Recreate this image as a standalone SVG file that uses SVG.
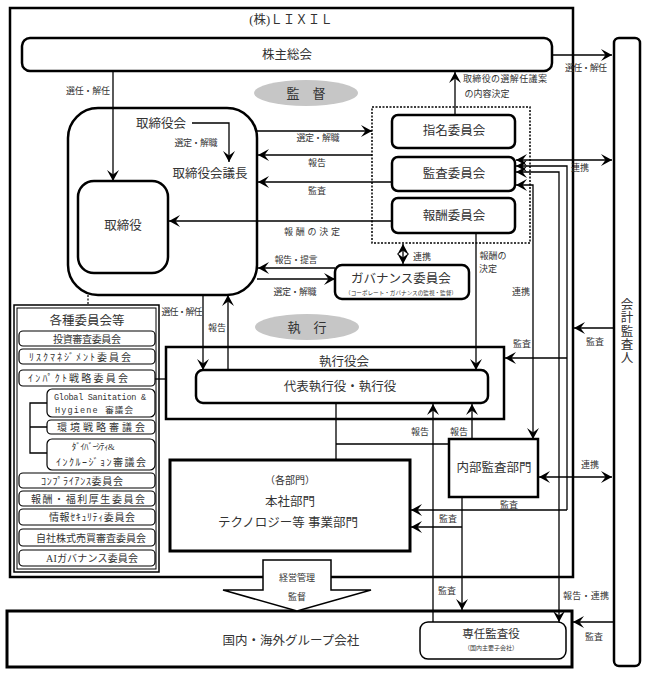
<svg xmlns="http://www.w3.org/2000/svg" width="648" height="677" viewBox="0 0 648 677">
<defs>
<marker id="ah" viewBox="-12 -7 13 14" refX="0" refY="0" markerWidth="13" markerHeight="14" markerUnits="userSpaceOnUse" orient="auto-start-reverse">
<path d="M0,0 L-11,-6 L-6.5,0 L-11,6 Z" fill="#000"/>
</marker>
<style>
.b{fill:#fff;stroke:#000;stroke-width:2.5}
.n{fill:#fff;stroke:#000;stroke-width:1.2}
.t{font-family:"Liberation Serif","Noto Sans CJK JP",serif;fill:#333;text-anchor:middle;dominant-baseline:central}
.s{font-size:9px}
.m{font-size:12.5px}
.i{font-size:10px}
.c{fill:none;stroke:#000;stroke-width:1.3}
.e{marker-end:url(#ah)}
.d{marker-start:url(#ah);marker-end:url(#ah)}
.el{fill:#c6c6c6}
.et{font-size:13px;fill:#333}
</style>
</defs>
<rect width="648" height="677" fill="#fff"/>

<g id="lixil">
<rect x="10" y="8" width="563" height="569" fill="none" stroke="#000" stroke-width="2.5"/>
<text class="t m" x="291" y="20">(株)ＬＩＸＩＬ</text>
</g>

<g id="auditor">
<rect x="614" y="38" width="26" height="628" rx="5" class="b" stroke-width="2"/>
<text class="t m" x="627" y="305">会</text>
<text class="t m" x="627" y="318">計</text>
<text class="t m" x="627" y="332">監</text>
<text class="t m" x="627" y="345">査</text>
<text class="t m" x="627" y="358">人</text>
</g>

<g id="shareholders">
<rect x="22" y="38" width="530" height="33" rx="8" class="b"/>
<text class="t m" x="287" y="55">株主総会</text>
</g>

<g id="supervision">
<ellipse cx="306" cy="93" rx="52" ry="13" class="el"/>
<text class="t et" x="306" y="93">監　督</text>
</g>

<g id="board">
<rect x="68" y="108" width="189" height="187" rx="30" class="b"/>
<text class="t m" x="161" y="124">取締役会</text>
<text class="t m" x="210" y="174">取締役会議長</text>
</g>

<g id="directors">
<rect x="78" y="181" width="90" height="92" rx="16" class="b"/>
<text class="t m" x="123" y="226">取締役</text>
</g>

<g id="committees-frame">
<rect x="372" y="107" width="158" height="136" fill="none" stroke="#000" stroke-width="1.5" stroke-dasharray="2,1.5"/>
</g>
<g id="nomination">
<rect x="392" y="115" width="123" height="33" rx="6" class="b"/>
<text class="t m" x="454" y="131">指名委員会</text>
</g>
<g id="audit-committee">
<rect x="392" y="157" width="123" height="34" rx="6" class="b"/>
<text class="t m" x="454" y="174">監査委員会</text>
</g>
<g id="compensation">
<rect x="392" y="198" width="123" height="35" rx="6" class="b"/>
<text class="t m" x="454" y="216">報酬委員会</text>
</g>

<g id="governance">
<rect x="335" y="265" width="134" height="34" rx="7" class="b"/>
<text class="t" style="font-size:12.5px" x="401" y="279">ガバナンス委員会</text>
<text class="t" style="font-size:5.6px" x="401" y="293">（コーポレート・ガバナンスの監視・監督）</text>
</g>

<g id="execution">
<ellipse cx="307" cy="327" rx="52" ry="13" class="el"/>
<text class="t et" x="307" y="327">執　行</text>
</g>

<g id="exec-board">
<rect x="166" y="347" width="338" height="72" class="b"/>
<text class="t m" x="344" y="362">執行役会</text>
</g>
<g id="officers">
<rect x="196" y="370" width="292" height="33" rx="7" class="b"/>
<text class="t m" x="340" y="387">代表執行役・執行役</text>
</g>

<g id="various-committees">
<rect x="14" y="305" width="145" height="267" fill="#fff" stroke="#000" stroke-width="1.5"/>
<rect x="17" y="308" width="139" height="261" fill="none" stroke="#000" stroke-width="1"/>
<text class="t" style="font-size:12.5px" x="87" y="321">各種委員会等</text>
<rect class="n" x="19" y="331" width="136" height="15" rx="4"/>
<text class="t i" x="87" y="339" textLength="68">投資審査委員会</text>
<rect class="n" x="19" y="349" width="136" height="15" rx="4"/>
<text class="t i" x="80" y="357" textLength="102">ﾘｽｸﾏﾈｼﾞﾒﾝﾄ委員会</text>
<rect class="n" x="19" y="370" width="136" height="16" rx="4"/>
<text class="t i" x="78" y="378" textLength="100">ｲﾝﾊﾟｸﾄ戦略委員会</text>
<rect class="n" x="47" y="389" width="108" height="28" rx="5"/>
<text class="t" style="font-family:'Liberation Mono','Noto Sans CJK JP',monospace;font-size:8.5px" x="100" y="398" textLength="92">Global Sanitation &amp;</text>
<text class="t" style="font-family:'Liberation Mono','Noto Sans CJK JP',monospace;font-size:8.5px" x="94" y="411" textLength="78">Hygiene 審議会</text>
<rect class="n" x="47" y="420" width="108" height="14" rx="4"/>
<text class="t i" x="101" y="427" textLength="88">環境戦略審議会</text>
<rect class="n" x="47" y="439" width="108" height="31" rx="5"/>
<text class="t" style="font-size:9px" x="93" y="447" textLength="43">ﾀﾞｲﾊﾞｰｼﾃｨ&amp;</text>
<text class="t i" x="101" y="462" textLength="90">ｲﾝｸﾙｰｼﾞｮﾝ審議会</text>
<rect class="n" x="19" y="473" width="136" height="15" rx="4"/>
<text class="t i" x="82" y="481" textLength="82">ｺﾝﾌﾟﾗｲｱﾝｽ委員会</text>
<rect class="n" x="19" y="491" width="136" height="15" rx="4"/>
<text class="t i" x="88" y="499" textLength="114">報酬・福利厚生委員会</text>
<rect class="n" x="19" y="509" width="136" height="16" rx="4"/>
<text class="t i" x="92" y="517" textLength="86">情報ｾｷｭﾘﾃｨ委員会</text>
<rect class="n" x="19" y="529" width="136" height="17" rx="4"/>
<text class="t i" x="91" y="538" textLength="110">自社株式売買審査委員会</text>
<rect class="n" x="19" y="550" width="136" height="16" rx="4"/>
<text class="t i" x="92" y="558" textLength="92">AIガバナンス委員会</text>
</g>

<g id="divisions">
<rect x="170" y="460" width="240" height="91" fill="#fff" stroke="#000" stroke-width="3"/>
<text class="t i" x="290" y="480">（各部門）</text>
<text class="t m" x="290" y="502">本社部門</text>
<text class="t m" x="288" y="523">テクノロジー等 事業部門</text>
</g>

<g id="internal-audit">
<rect x="449" y="439" width="89" height="58" class="b"/>
<text class="t m" x="494" y="468">内部監査部門</text>
</g>

<g id="group-companies">
<rect x="7" y="611" width="565" height="56" fill="#fff" stroke="#000" stroke-width="3"/>
<text class="t m" x="291" y="641">国内・海外グループ会社</text>
</g>

<g id="statutory-auditor">
<rect x="420" y="622" width="146" height="37" rx="8" fill="#fff" stroke="#000" stroke-width="1.5"/>
<text class="t" style="font-size:11.5px" x="491" y="634">専任監査役</text>
<text class="t" style="font-size:6px" x="491" y="648">（国内主要子会社）</text>
</g>

<g id="connectors">
<path class="c e" d="M552,55 H612"/>
<path class="c e" d="M113,71 V181"/>
<path class="c e" d="M455,115 V72"/>
<path class="c e" d="M192,123 H229 V162"/>
<path class="c e" d="M257,131 H372"/>
<path class="c e" d="M372,155 H258"/>
<path class="c e" d="M392,182 H258"/>
<path class="c e" d="M392,221 H169"/>
<path class="c d" d="M403,244 V264"/>
<path class="c e" d="M335,268 H258"/>
<path class="c e" d="M257,279 H335"/>
<path class="c e" d="M476,233 V370"/>
<path class="c e" d="M203,295 V370"/>
<path class="c e" d="M228,370 V295"/>
<path d="M88,295 V305" fill="none" stroke="#000" stroke-width="1.2" stroke-dasharray="2,1.5"/>
<path class="c" d="M155,379 H166"/>
<path class="c" d="M47,403 H30 V453 H47 M30,427 H47"/>
<path class="c" d="M336,403 V460 M336,444 H449"/>
<path class="c e" d="M472,439 V404"/>
<path class="c e" d="M433,622 V404"/>
<path class="c d" d="M516,160 H612"/>
<path class="c e" d="M567,510 V166 H516"/>
<path class="c e" d="M567,358 H505"/>
<path class="c e" d="M567,510 H411"/>
<path class="c d" d="M559,622 V172 H516"/>
<path class="c d" d="M533,439 V185 H516"/>
<path class="c e" d="M613,328 H574"/>
<path class="c d" d="M539,477 H612"/>
<path class="c e" d="M462,497 V610"/>
<path class="c e" d="M462,527 H411"/>
<path class="c e" d="M613,622 H573"/>
</g>

<g id="labels">
<text class="t s" x="586" y="68" textLength="42">選任・解任</text>
<text class="t s" x="88" y="91" textLength="44">選任・解任</text>
<text class="t s" x="505" y="79" textLength="84">取締役の選解任議案</text>
<text class="t s" x="487" y="94">の内容決定</text>
<text class="t s" x="196" y="143" textLength="43">選定・解職</text>
<text class="t s" x="318" y="138" textLength="43">選定・解職</text>
<text class="t s" x="317" y="163">報告</text>
<text class="t s" x="317" y="191">監査</text>
<text class="t s" x="312" y="232" textLength="56">報酬の決定</text>
<text class="t s" x="422" y="257">連携</text>
<text class="t s" x="296" y="260" textLength="43">報告・提言</text>
<text class="t s" x="295" y="292" textLength="43">選定・解職</text>
<text class="t s" x="493" y="256">報酬の</text>
<text class="t s" x="488" y="269">決定</text>
<text class="t s" x="521" y="292">連携</text>
<text class="t s" x="580" y="168">連携</text>
<text class="t s" x="182" y="312" textLength="41">選任・解任</text>
<text class="t s" x="217" y="328">報告</text>
<text class="t s" x="522" y="344">監査</text>
<text class="t s" x="595" y="342">監査</text>
<text class="t s" x="420" y="432">報告</text>
<text class="t s" x="459" y="432">報告</text>
<text class="t s" x="590" y="465">連携</text>
<text class="t s" x="509" y="505">監査</text>
<text class="t s" x="448" y="519">監査</text>
<text class="t s" x="447" y="591">監査</text>
<text class="t s" x="586" y="596" textLength="46">報告・連携</text>
<text class="t s" x="594" y="637">監査</text>
</g>

<g id="management-arrow">
<path d="M263,560 H331 V590 H371 L297,611 L223,590 H263 Z" fill="#fff" stroke="#000" stroke-width="1.5"/>
<text class="t s" x="297" y="578">経営管理</text>
<text class="t s" x="297" y="597">監督</text>
</g>
</svg>
